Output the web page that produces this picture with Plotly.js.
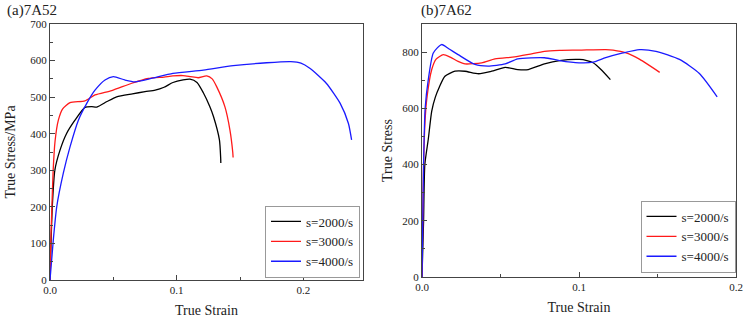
<!DOCTYPE html>
<html>
<head>
<meta charset="utf-8">
<script src="https://cdn.plot.ly/plotly-3.0.1.min.js"></script>
<style>
  html, body { margin: 0; padding: 0; background: #fff; }
  #chart { width: 746px; height: 319px; }
</style>
</head>
<body>
<div id="chart"></div>
<script>
// Strain rate labels
const rateLabels = ['s=2000/s', 's=3000/s', 's=4000/s'];
const rateColors = ['#000000', '#ff1a1a', '#1a1aff'];

// (a) 7A52 — true strain / true stress (MPa)
const a2000Strain = [0, 0.0008, 0.0018, 0.0038, 0.0079, 0.013, 0.0197, 0.0276, 0.033, 0.037, 0.045, 0.0526, 0.065, 0.075, 0.083, 0.09, 0.097, 0.105, 0.1105, 0.116, 0.121, 0.126, 0.129, 0.1337, 0.1347, 0.1348];
const a2000Stress = [0, 100, 200, 300, 355, 400, 437, 472, 474, 473, 488, 501, 509, 515, 519, 527, 540, 547, 549, 540, 512, 475, 447, 383, 333, 320];

const a3000Strain = [0, 0.0006, 0.0015, 0.0025, 0.004, 0.0066, 0.01, 0.0158, 0.0276, 0.0355, 0.0487, 0.0645, 0.0776, 0.09, 0.097, 0.105, 0.111, 0.117, 0.1237, 0.128, 0.1316, 0.138, 0.142, 0.1442, 0.1445];
const a3000Stress = [0, 100, 200, 300, 380, 437, 468, 485, 490, 506, 518, 538, 551, 555, 558, 559, 556, 553, 558, 550, 528, 474, 410, 350, 335];

const a4000Strain = [0, 0.0026, 0.0053, 0.0105, 0.0158, 0.0224, 0.029, 0.0355, 0.0434, 0.05, 0.059, 0.067, 0.08, 0.097, 0.121, 0.1446, 0.171, 0.19, 0.198, 0.205, 0.218, 0.229, 0.2355, 0.238];
const a4000Stress = [0, 109, 200, 292, 364, 437, 483, 519, 547, 556, 547, 542, 551, 565, 574, 586, 594, 597, 593, 579, 538, 483, 428, 383];

// (b) 7A62 — true strain / true stress
const b2000Strain = [0, 0.001, 0.0018, 0.004, 0.0062, 0.0085, 0.011, 0.0146, 0.021, 0.0274, 0.036, 0.0443, 0.053, 0.061, 0.0677, 0.078, 0.0876, 0.1003, 0.105, 0.109, 0.114, 0.12];
const b2000Stress = [0, 200, 400, 490, 590, 640, 675, 714, 732, 732, 723, 732, 746, 738, 738, 758, 770, 774, 770, 762, 738, 702];

const b3000Strain = [0, 0.0005, 0.001, 0.002, 0.003, 0.0062, 0.009, 0.0136, 0.018, 0.023, 0.0274, 0.038, 0.0465, 0.059, 0.068, 0.078, 0.0876, 0.1, 0.117, 0.1217, 0.13, 0.1387, 0.1514];
const b3000Stress = [0, 200, 400, 560, 631, 738, 775, 791, 782, 767, 758, 762, 776, 783, 792, 803, 806, 807, 809, 807, 797, 774, 728];

const b4000Strain = [0, 0.0005, 0.001, 0.002, 0.004, 0.0072, 0.0125, 0.017, 0.023, 0.0337, 0.042, 0.053, 0.061, 0.078, 0.0876, 0.1, 0.109, 0.117, 0.128, 0.1385, 0.149, 0.164, 0.1767, 0.188];
const b4000Stress = [0, 200, 400, 600, 702, 797, 827, 812, 791, 756, 750, 758, 776, 780, 770, 762, 764, 780, 797, 809, 803, 774, 724, 641];

const seriesA = [[a2000Strain, a2000Stress], [a3000Strain, a3000Stress], [a4000Strain, a4000Stress]];
const seriesB = [[b2000Strain, b2000Stress], [b3000Strain, b3000Stress], [b4000Strain, b4000Stress]];

const serif = 'Liberation Serif';
const traces = [];
seriesA.forEach((s, i) => traces.push({
  x: s[0], y: s[1], type: 'scatter', mode: 'lines', name: rateLabels[i],
  line: { color: rateColors[i], width: 1.3, shape: 'spline', smoothing: 0.6 },
  xaxis: 'x', yaxis: 'y', legend: 'legend'
}));
seriesB.forEach((s, i) => traces.push({
  x: s[0], y: s[1], type: 'scatter', mode: 'lines', name: rateLabels[i],
  line: { color: rateColors[i], width: 1.3, shape: 'spline', smoothing: 0.6 },
  xaxis: 'x2', yaxis: 'y2', legend: 'legend2'
}));

const axisCommon = {
  showline: true, mirror: true, linecolor: '#444', linewidth: 1,
  showgrid: false, zeroline: false,
  ticks: 'inside', ticklen: 5, tickcolor: '#444',
  tickfont: { family: serif, size: 11, color: '#222' }
};

const legendCommon = {
  font: { family: serif, size: 13, color: '#222' },
  bgcolor: '#fff', bordercolor: '#999', borderwidth: 1,
  xanchor: 'right', yanchor: 'bottom', tracegroupgap: 0,
  itemwidth: 30
};

const layout = {
  width: 746, height: 319,
  margin: { l: 0, r: 0, t: 0, b: 0 },
  font: { family: serif, color: '#222' },
  paper_bgcolor: '#fff', plot_bgcolor: '#fff',
  showlegend: true,
  xaxis: Object.assign({}, axisCommon, {
    domain: [50 / 746, 363 / 746], range: [0, 0.247],
    tickvals: [0, 0.1, 0.2], ticktext: ['0.0', '0.1', '0.2'],
    minor: { tickvals: [0.05, 0.15], ticks: 'inside', ticklen: 3, tickcolor: '#444' },
    title: { text: 'True Strain', font: { family: serif, size: 14, color: '#222' }, standoff: 9 },
    anchor: 'y'
  }),
  yaxis: Object.assign({}, axisCommon, {
    domain: [1 - 280 / 319, 1 - 24 / 319], range: [0, 700], dtick: 100,
    minor: { dtick: 50, ticks: 'inside', ticklen: 3, tickcolor: '#444' },
    title: { text: 'True Stress/MPa', font: { family: serif, size: 14, color: '#222' }, standoff: 11 },
    anchor: 'x'
  }),
  xaxis2: Object.assign({}, axisCommon, {
    domain: [422 / 746, 736 / 746], range: [0, 0.2],
    tickvals: [0, 0.1, 0.2], ticktext: ['0.0', '0.1', '0.2'],
    minor: { tickvals: [0.05, 0.15], ticks: 'inside', ticklen: 3, tickcolor: '#444' },
    title: { text: 'True Strain', font: { family: serif, size: 14, color: '#222' }, standoff: 9 },
    anchor: 'y2'
  }),
  yaxis2: Object.assign({}, axisCommon, {
    domain: [1 - 277 / 319, 1 - 24 / 319], range: [0, 900], dtick: 200,
    minor: { dtick: 100, ticks: 'inside', ticklen: 3, tickcolor: '#444' },
    title: { text: 'True Stress', font: { family: serif, size: 14, color: '#222' }, standoff: 6 },
    anchor: 'x2'
  }),
  legend: Object.assign({}, legendCommon, { x: 360 / 746, y: 1 - 277.5 / 319 }),
  legend2: Object.assign({}, legendCommon, { x: 735.5 / 746, y: 1 - 272.5 / 319 }),
  annotations: [
    { text: '(a)7A52', xref: 'paper', yref: 'paper', x: 5 / 746, y: 1 - 10.5 / 319,
      xanchor: 'left', yanchor: 'middle', showarrow: false,
      font: { family: serif, size: 15, color: '#222' } },
    { text: '(b)7A62', xref: 'paper', yref: 'paper', x: 419 / 746, y: 1 - 10.5 / 319,
      xanchor: 'left', yanchor: 'middle', showarrow: false,
      font: { family: serif, size: 15, color: '#222' } }
  ]
};

Plotly.newPlot('chart', traces, layout, { displayModeBar: false, staticPlot: true });
</script>
</body>
</html>
